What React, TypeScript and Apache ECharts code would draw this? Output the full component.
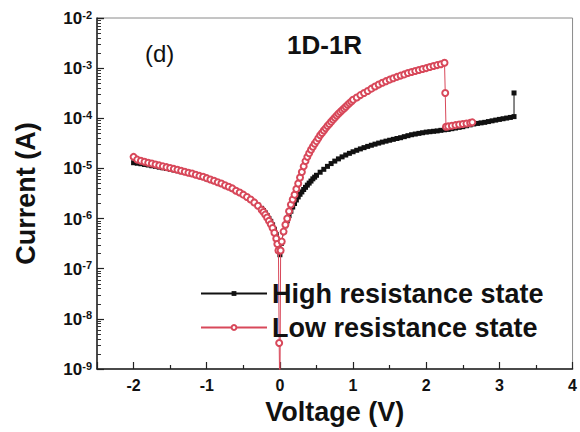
import React, { useEffect, useRef } from "react";
import * as echarts from "echarts";

// High resistance state sweep (V, A)
const hrsVoltage = [
  -2.0, -1.95, -1.9, -1.85, -1.8, -1.75, -1.7, -1.65, -1.6, -1.55,
  -1.5, -1.45, -1.4, -1.35, -1.3, -1.25, -1.2, -1.15, -1.1, -1.05,
  -1.0, -0.95, -0.9, -0.85, -0.8, -0.75, -0.7, -0.65, -0.6, -0.55,
  -0.5, -0.45, -0.4, -0.35, -0.3, -0.25, -0.225, -0.2, -0.175, -0.15,
  -0.125, -0.1, -0.075, -0.05, -0.02, 0.0, 0.02,
  0.05, 0.075, 0.1, 0.125, 0.15, 0.175, 0.2, 0.225, 0.25, 0.275,
  0.3, 0.325, 0.35, 0.375, 0.4, 0.425, 0.45, 0.475, 0.5,
  0.55, 0.6, 0.65, 0.7, 0.75, 0.8, 0.85, 0.9, 0.95, 1.0,
  1.05, 1.1, 1.15, 1.2, 1.25, 1.3, 1.35, 1.4, 1.45, 1.5,
  1.55, 1.6, 1.65, 1.7, 1.75, 1.8, 1.85, 1.9, 1.95, 2.0,
  2.05, 2.1, 2.15, 2.2, 2.25, 2.3, 2.35, 2.4, 2.45, 2.5,
  2.55, 2.6, 2.65, 2.7, 2.75, 2.8, 2.85, 2.9, 2.95, 3.0,
  3.05, 3.1, 3.15, 3.2, 3.2,
];
const hrsCurrent = [
  1.3e-5, 1.27e-5, 1.24e-5, 1.2e-5, 1.17e-5, 1.13e-5, 1.1e-5, 1.06e-5, 1.03e-5, 1.0e-5,
  9.6e-6, 9.3e-6, 9.0e-6, 8.6e-6, 8.3e-6, 8.0e-6, 7.6e-6, 7.3e-6, 6.9e-6, 6.6e-6,
  6.2e-6, 5.9e-6, 5.5e-6, 5.2e-6, 4.9e-6, 4.5e-6, 4.2e-6, 3.9e-6, 3.6e-6, 3.3e-6,
  3.0e-6, 2.7e-6, 2.4e-6, 2.1e-6, 1.85e-6, 1.6e-6, 1.45e-6, 1.3e-6, 1.15e-6, 1.0e-6,
  8.8e-7, 7.5e-7, 6.1e-7, 4.8e-7, 2.8e-7, 1.9e-7, 3.2e-7,
  5.5e-7, 7.2e-7, 9.0e-7, 1.15e-6, 1.4e-6, 1.7e-6, 2.0e-6, 2.35e-6, 2.7e-6, 3.05e-6,
  3.4e-6, 3.8e-6, 4.2e-6, 4.65e-6, 5.1e-6, 5.6e-6, 6.2e-6, 6.7e-6, 7.3e-6,
  8.4e-6, 9.6e-6, 1.1e-5, 1.25e-5, 1.4e-5, 1.55e-5, 1.7e-5, 1.85e-5, 2.0e-5, 2.15e-5,
  2.3e-5, 2.45e-5, 2.6e-5, 2.75e-5, 2.9e-5, 3.05e-5, 3.2e-5, 3.35e-5, 3.5e-5, 3.65e-5,
  3.8e-5, 3.95e-5, 4.1e-5, 4.3e-5, 4.5e-5, 4.7e-5, 4.85e-5, 5.0e-5, 5.15e-5, 5.3e-5,
  5.4e-5, 5.5e-5, 5.6e-5, 5.75e-5, 5.9e-5, 6.0e-5, 6.2e-5, 6.4e-5, 6.6e-5, 6.8e-5,
  7.1e-5, 7.4e-5, 7.7e-5, 7.9e-5, 8.1e-5, 8.3e-5, 8.6e-5, 8.9e-5, 9.2e-5, 9.5e-5,
  9.8e-5, 1.01e-4, 1.04e-4, 1.08e-4, 3.2e-4,
];

// Low resistance state sweep (V, A)
const lrsVoltage = [
  -2.0, -1.95, -1.9, -1.85, -1.8, -1.75, -1.7, -1.65, -1.6, -1.55,
  -1.5, -1.45, -1.4, -1.35, -1.3, -1.25, -1.2, -1.15, -1.1, -1.05,
  -1.0, -0.95, -0.9, -0.85, -0.8, -0.75, -0.7, -0.65, -0.6, -0.55,
  -0.5, -0.45, -0.4, -0.35, -0.3, -0.25, -0.225, -0.2, -0.175, -0.15,
  -0.125, -0.1, -0.075, -0.05, -0.035, -0.02, -0.01, 0.0, 0.01,
  0.025, 0.05, 0.075, 0.1, 0.125, 0.15, 0.175, 0.2, 0.225, 0.25,
  0.275, 0.3, 0.325, 0.35, 0.375, 0.4, 0.425, 0.45, 0.475, 0.5,
  0.525, 0.55, 0.575, 0.6, 0.625, 0.65, 0.675, 0.7, 0.725, 0.75,
  0.775, 0.8, 0.825, 0.85, 0.875, 0.9, 0.925, 0.95, 0.975, 1.0,
  1.05, 1.1, 1.15, 1.2, 1.25, 1.3, 1.35, 1.4, 1.45, 1.5,
  1.55, 1.6, 1.65, 1.7, 1.75, 1.8, 1.85, 1.9, 1.95, 2.0,
  2.05, 2.1, 2.15, 2.2, 2.25, 2.26, 2.27,
  2.3, 2.35, 2.4, 2.45, 2.5, 2.55, 2.6, 2.63,
];
const lrsCurrent = [
  1.7e-5, 1.5e-5, 1.42e-5, 1.36e-5, 1.3e-5, 1.25e-5, 1.2e-5, 1.15e-5, 1.1e-5, 1.06e-5,
  1.02e-5, 9.8e-6, 9.4e-6, 9.0e-6, 8.6e-6, 8.2e-6, 7.9e-6, 7.5e-6, 7.1e-6, 6.8e-6,
  6.4e-6, 6.0e-6, 5.7e-6, 5.3e-6, 5.0e-6, 4.6e-6, 4.3e-6, 4.0e-6, 3.6e-6, 3.3e-6,
  3.0e-6, 2.7e-6, 2.4e-6, 2.1e-6, 1.8e-6, 1.5e-6, 1.35e-6, 1.2e-6, 1.05e-6, 9.0e-7,
  7.7e-7, 6.5e-7, 5.2e-7, 4.0e-7, 3.1e-7, 2.3e-7, 3.3e-9, 2.0e-10, 2.3e-7,
  3.5e-7, 5.5e-7, 7.5e-7, 1.0e-6, 1.4e-6, 1.9e-6, 2.4e-6, 3.0e-6, 3.9e-6, 5.0e-6,
  6.6e-6, 8.5e-6, 1.1e-5, 1.4e-5, 1.7e-5, 2.0e-5, 2.35e-5, 2.7e-5, 3.1e-5, 3.5e-5,
  4.0e-5, 4.6e-5, 5.1e-5, 5.7e-5, 6.3e-5, 7.0e-5, 7.7e-5, 8.5e-5, 9.4e-5, 1.03e-4,
  1.13e-4, 1.23e-4, 1.34e-4, 1.45e-4, 1.57e-4, 1.7e-4, 1.85e-4, 2.0e-4, 2.15e-4, 2.35e-4,
  2.6e-4, 2.9e-4, 3.2e-4, 3.5e-4, 3.9e-4, 4.3e-4, 4.7e-4, 5.1e-4, 5.5e-4, 5.9e-4,
  6.3e-4, 6.7e-4, 7.1e-4, 7.5e-4, 8.0e-4, 8.4e-4, 8.8e-4, 9.2e-4, 9.6e-4, 1.0e-3,
  1.05e-3, 1.1e-3, 1.15e-3, 1.2e-3, 1.28e-3, 3.2e-4, 6.8e-5,
  6.9e-5, 7.1e-5, 7.3e-5, 7.5e-5, 7.7e-5, 7.9e-5, 8.1e-5, 8.3e-5,
];

const seriesNames = ["High resistance state", "Low resistance state"];

const FONT = "'Liberation Sans', Arial, Helvetica, sans-serif";
const RED = "#d8485a";

const pairs = (xs: number[], ys: number[]) => xs.map((x, i) => [x, ys[i]]);

export default function App() {
  const ref = useRef<HTMLDivElement>(null);

  useEffect(() => {
    if (!ref.current) return;
    const chart = echarts.init(ref.current, undefined, { renderer: "svg" });
    chart.setOption({
      animation: false,
      backgroundColor: "#ffffff",
      textStyle: { fontFamily: FONT },
      grid: {
        left: 97,
        top: 18,
        width: 481,
        height: 351,
        show: true,
        borderColor: "#8a8a8a",
        borderWidth: 1,
        backgroundColor: "transparent",
      },
      xAxis: {
        type: "value",
        min: -2.5,
        max: 4,
        splitNumber: 6,
        name: "Voltage (V)",
        nameLocation: "middle",
        nameGap: 29,
        nameTextStyle: { fontSize: 27, fontWeight: "bold", color: "#111", fontFamily: FONT },
        axisLine: { show: true, onZero: false, lineStyle: { color: "#222", width: 1.5 } },
        axisTick: { show: true, inside: true, length: 7, lineStyle: { color: "#222", width: 1.2 } },
        minorTick: { show: true, splitNumber: 2, length: 4, lineStyle: { color: "#222", width: 1.2 } },
        axisLabel: {
          margin: 8,
          fontSize: 16,
          fontWeight: "bold",
          color: "#111",
          fontFamily: FONT,
          formatter: (v: number) => (Math.abs(v - Math.round(v)) < 1e-9 ? String(Math.round(v)) : ""),
        },
        splitLine: { show: false },
      },
      yAxis: {
        type: "log",
        logBase: 10,
        min: 1e-9,
        max: 1e-2,
        splitNumber: 7,
        name: "Current (A)",
        nameLocation: "middle",
        nameGap: 58,
        nameTextStyle: { fontSize: 27, fontWeight: "bold", color: "#111", fontFamily: FONT },
        axisLine: { show: true, onZero: false, lineStyle: { color: "#222", width: 1.5 } },
        axisTick: { show: true, inside: true, length: 7, lineStyle: { color: "#222", width: 1.2 } },
        minorTick: { show: true, splitNumber: 9, length: 4, lineStyle: { color: "#333", width: 1 } },
        axisLabel: {
          margin: 5,
          color: "#111",
          fontFamily: FONT,
          formatter: (v: number) => `{b|10}{s|${Math.round(Math.log10(v))}}`,
          rich: {
            b: { fontSize: 17, fontWeight: "bold", lineHeight: 18, verticalAlign: "bottom", fontFamily: FONT, color: "#111" },
            s: { fontSize: 11, fontWeight: "bold", lineHeight: 11, verticalAlign: "top", fontFamily: FONT, color: "#111" },
          },
        },
        splitLine: { show: false },
        minorSplitLine: { show: false },
      },
      legend: {
        orient: "vertical",
        left: 200,
        top: 280,
        padding: 0,
        itemWidth: 66,
        itemHeight: 6,
        itemGap: 7,
        data: seriesNames,
        textStyle: { fontSize: 27, fontWeight: "bold", color: "#111", fontFamily: FONT, lineHeight: 27 },
      },
      graphic: [
        {
          type: "text",
          left: 145,
          top: 41,
          style: { text: "(d)", fontSize: 24, fontFamily: FONT, fill: "#111" },
        },
        {
          type: "text",
          left: 287,
          top: 32,
          style: { text: "1D-1R", fontSize: 26, fontWeight: "bold", fontFamily: FONT, fill: "#111" },
        },
      ],
      series: [
        {
          name: seriesNames[0],
          type: "line",
          data: pairs(hrsVoltage, hrsCurrent),
          symbol: "rect",
          symbolSize: 5,
          showAllSymbol: true,
          color: "#111",
          lineStyle: { color: "#111", width: 1 },
          itemStyle: { color: "#111" },
          clip: true,
          z: 2,
        },
        {
          name: seriesNames[1],
          type: "line",
          data: pairs(lrsVoltage, lrsCurrent),
          symbol: "emptyCircle",
          symbolSize: 6,
          showAllSymbol: true,
          color: RED,
          lineStyle: { color: RED, width: 1 },
          itemStyle: { color: RED, borderColor: RED, borderWidth: 1 },
          clip: true,
          z: 3,
        },
      ],
    });
    return () => chart.dispose();
  }, []);

  return (
    <div
      ref={ref}
      style={{ position: "fixed", left: 0, top: 0, width: 580, height: 432, background: "#fff" }}
    />
  );
}
